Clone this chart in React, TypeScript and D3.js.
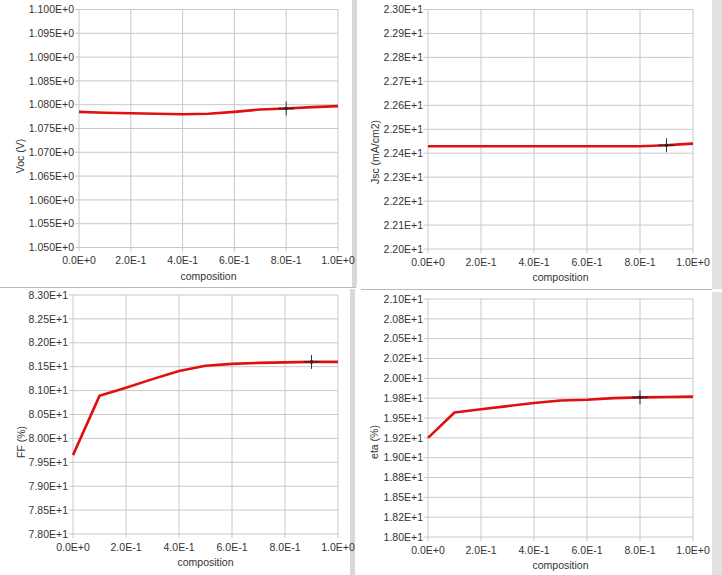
import { useEffect, useRef } from "react";
import * as d3 from "d3";

// composition values shared by all four panels
const composition = [0, 0.1, 0.2, 0.3, 0.4, 0.5, 0.6, 0.7, 0.8, 0.9, 1.0];
const xTickValues = [0, 0.2, 0.4, 0.6, 0.8, 1.0];
const xTickLabels = ["0.0E+0", "2.0E-1", "4.0E-1", "6.0E-1", "8.0E-1", "1.0E+0"];

const vocValues = [1.0785, 1.0783, 1.0782, 1.0781, 1.078, 1.0781, 1.0785, 1.079, 1.0792, 1.0795, 1.0797];
const vocTicks = [1.05, 1.055, 1.06, 1.065, 1.07, 1.075, 1.08, 1.085, 1.09, 1.095, 1.1];
const vocTickLabels = ["1.050E+0", "1.055E+0", "1.060E+0", "1.065E+0", "1.070E+0", "1.075E+0", "1.080E+0", "1.085E+0", "1.090E+0", "1.095E+0", "1.100E+0"];

const jscComposition = [0, 0.2, 0.4, 0.6, 0.8, 0.85, 0.9, 0.95, 1.0];
const jscValues = [22.429, 22.429, 22.429, 22.429, 22.429, 22.431, 22.433, 22.437, 22.44];
const jscTicks = [22.0, 22.1, 22.2, 22.3, 22.4, 22.5, 22.6, 22.7, 22.8, 22.9, 23.0];
const jscTickLabels = ["2.20E+1", "2.21E+1", "2.22E+1", "2.23E+1", "2.24E+1", "2.25E+1", "2.26E+1", "2.27E+1", "2.28E+1", "2.29E+1", "2.30E+1"];

const ffValues = [79.65, 80.89, 81.06, 81.24, 81.41, 81.52, 81.56, 81.58, 81.59, 81.6, 81.6];
const ffTicks = [78.0, 78.5, 79.0, 79.5, 80.0, 80.5, 81.0, 81.5, 82.0, 82.5, 83.0];
const ffTickLabels = ["7.80E+1", "7.85E+1", "7.90E+1", "7.95E+1", "8.00E+1", "8.05E+1", "8.10E+1", "8.15E+1", "8.20E+1", "8.25E+1", "8.30E+1"];

const etaValues = [19.25, 19.57, 19.61, 19.65, 19.69, 19.72, 19.73, 19.75, 19.76, 19.765, 19.77];
const etaTicks = [18.0, 18.25, 18.5, 18.75, 19.0, 19.25, 19.5, 19.75, 20.0, 20.25, 20.5, 20.75, 21.0];
const etaTickLabels = ["1.80E+1", "1.82E+1", "1.85E+1", "1.88E+1", "1.90E+1", "1.92E+1", "1.95E+1", "1.98E+1", "2.00E+1", "2.02E+1", "2.05E+1", "2.08E+1", "2.10E+1"];

const panels = [
  { label: "Voc (V)", xs: composition, ys: vocValues, ticks: vocTicks, tickLabels: vocTickLabels, cursor: 8,
    left: 79, right: 338, top: 9.5, bottom: 247.5, labelX: 20, labelY: 156 },
  { label: "Jsc (mA/cm2)", xs: jscComposition, ys: jscValues, ticks: jscTicks, tickLabels: jscTickLabels, cursor: 6,
    left: 428, right: 693, top: 9.5, bottom: 249, labelX: 375, labelY: 152 },
  { label: "FF (%)", xs: composition, ys: ffValues, ticks: ffTicks, tickLabels: ffTickLabels, cursor: 9,
    left: 73, right: 338, top: 295, bottom: 534, labelX: 21, labelY: 442 },
  { label: "eta (%)", xs: composition, ys: etaValues, ticks: etaTicks, tickLabels: etaTickLabels, cursor: 8,
    left: 428, right: 693, top: 299, bottom: 537, labelX: 374, labelY: 442 },
];

export default function App() {
  const ref = useRef<SVGSVGElement>(null);

  useEffect(() => {
    const svg = d3.select(ref.current);
    svg.selectAll("*").remove();

    const font = "'Liberation Sans', Arial, sans-serif";
    const textColor = "#333";
    const gridColor = "#c8c8c8";

    // panel frames (light gray separators)
    const frame = svg.append("g");
    frame.append("rect").attr("x", 352).attr("y", 0).attr("width", 5).attr("height", 287).attr("fill", "#d8d8d8");
    frame.append("rect").attr("x", 350).attr("y", 289).attr("width", 5).attr("height", 286).attr("fill", "#d8d8d8");
    frame.append("rect").attr("x", 712).attr("y", 0).attr("width", 10).attr("height", 289).attr("fill", "#e2e2e2");
    frame.append("rect").attr("x", 712).attr("y", 292).attr("width", 10).attr("height", 283).attr("fill", "#e2e2e2");
    frame.append("line").attr("x1", 0).attr("x2", 356).attr("y1", 287.5).attr("y2", 287.5).attr("stroke", "#b8b8b8");
    frame.append("line").attr("x1", 361).attr("x2", 712).attr("y1", 289.5).attr("y2", 289.5).attr("stroke", "#b8b8b8");

    panels.forEach((p) => {
      const x = d3.scaleLinear().domain([0, 1]).range([p.left, p.right]);
      const y = d3
        .scaleLinear()
        .domain([p.ticks[0], p.ticks[p.ticks.length - 1]])
        .range([p.bottom, p.top]);

      const g = svg.append("g");

      // horizontal grid + y ticks
      g.selectAll(".hg")
        .data(p.ticks)
        .join("line")
        .attr("x1", x(0) - 4)
        .attr("x2", x(1))
        .attr("y1", (d) => y(d))
        .attr("y2", (d) => y(d))
        .attr("stroke", gridColor);

      g.selectAll(".yt")
        .data(p.ticks)
        .join("text")
        .attr("x", x(0) - 5)
        .attr("y", (d) => y(d))
        .attr("dy", "0.35em")
        .attr("text-anchor", "end")
        .attr("font-family", font)
        .attr("font-size", 10.5)
        .attr("fill", textColor)
        .text((d, i) => p.tickLabels[i]);

      // vertical grid + x ticks
      g.selectAll(".vg")
        .data(xTickValues)
        .join("line")
        .attr("x1", (d) => x(d))
        .attr("x2", (d) => x(d))
        .attr("y1", p.top)
        .attr("y2", p.bottom + 4)
        .attr("stroke", gridColor);

      g.selectAll(".xt")
        .data(xTickValues)
        .join("text")
        .attr("x", (d) => x(d))
        .attr("y", p.bottom + 16.5)
        .attr("text-anchor", "middle")
        .attr("font-family", font)
        .attr("font-size", 10.5)
        .attr("fill", textColor)
        .text((d, i) => xTickLabels[i]);

      g.append("text")
        .attr("x", (p.left + p.right) / 2)
        .attr("y", p.bottom + 32)
        .attr("text-anchor", "middle")
        .attr("font-family", font)
        .attr("font-size", 10.5)
        .attr("fill", textColor)
        .text("composition");

      g.append("text")
        .attr("transform", `translate(${p.labelX},${p.labelY}) rotate(-90)`)
        .attr("dy", "0.35em")
        .attr("text-anchor", "middle")
        .attr("font-family", font)
        .attr("font-size", 10.5)
        .attr("fill", textColor)
        .text(p.label);

      // data curve
      const line = d3
        .line<number>()
        .x((d, i) => x(p.xs[i]))
        .y((d) => y(d));

      g.append("path")
        .datum(p.ys)
        .attr("d", line)
        .attr("fill", "none")
        .attr("stroke", "#e01010")
        .attr("stroke-width", 2.6)
        .attr("stroke-linejoin", "round");

      // cursor cross on the data point
      const cx = x(p.xs[p.cursor]);
      const cy = y(p.ys[p.cursor]);
      g.append("line")
        .attr("x1", cx).attr("x2", cx).attr("y1", cy - 7).attr("y2", cy + 7)
        .attr("stroke", "#3a3030").attr("stroke-width", 1);
      g.append("line")
        .attr("x1", cx - 8).attr("x2", cx + 8).attr("y1", cy).attr("y2", cy)
        .attr("stroke", "#4a2020").attr("stroke-width", 1.6);
      g.append("circle").attr("cx", cx).attr("cy", cy).attr("r", 1.8).attr("fill", "#3a2020");
    });
  }, []);

  return (
    <svg
      ref={ref}
      width={722}
      height={575}
      style={{ position: "absolute", left: 0, top: 0, background: "#fff" }}
    ></svg>
  );
}
